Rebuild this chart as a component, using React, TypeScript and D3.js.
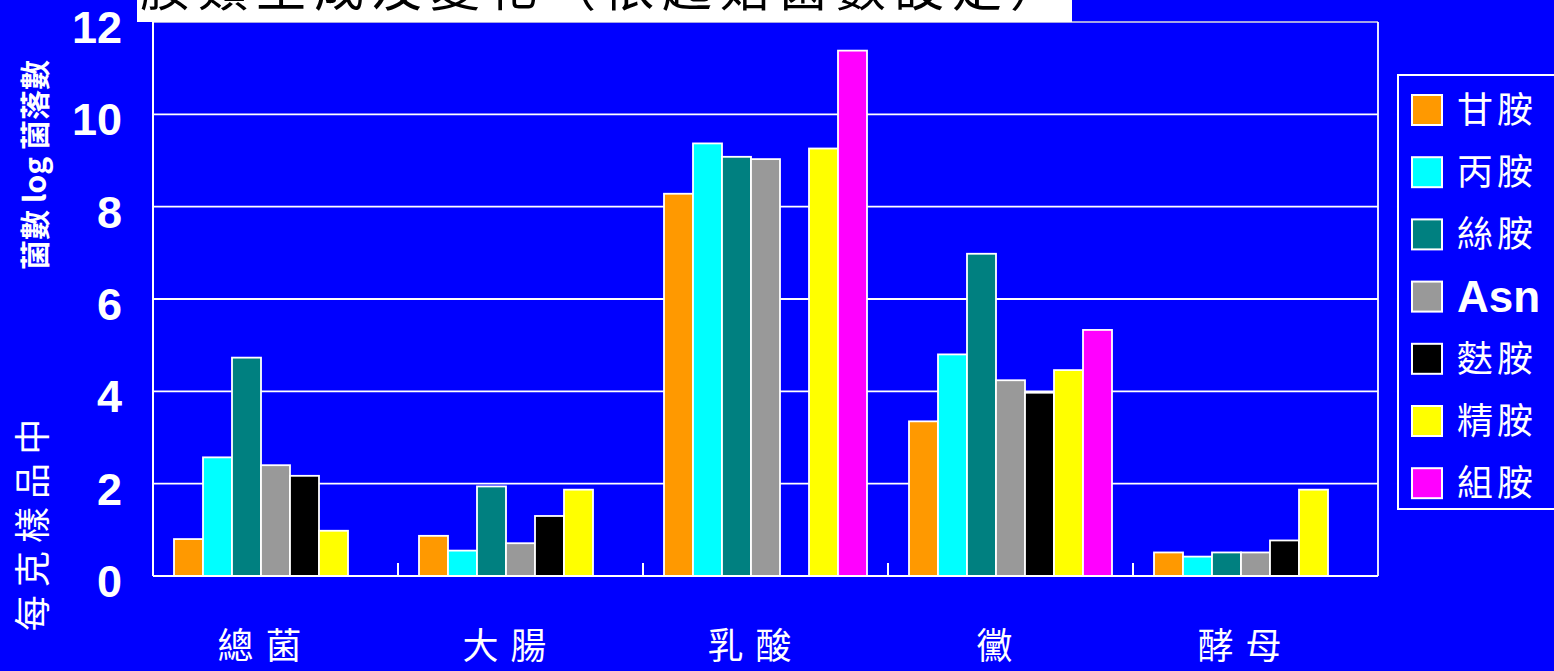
import React from "react";
import * as d3 from "d3";

// Groups along the x axis
const categories = ["總菌", "大腸", "乳酸", "黴", "酵母"];
// Series shown in the legend
const seriesNames = ["甘胺", "丙胺", "絲胺", "Asn", "麩胺", "精胺", "組胺"];
const seriesColors = ["#FF9900", "#00FFFF", "#008080", "#999999", "#000000", "#FFFF00", "#FF00FF"];

// log counts, one array per series (null = not measured)
const ganAn = [0.8, 0.87, 8.28, 3.35, 0.51];
const bingAn = [2.57, 0.55, 9.37, 4.8, 0.42];
const siAn = [4.73, 1.94, 9.08, 6.98, 0.51];
const asn = [2.4, 0.71, 9.03, 4.24, 0.51];
const fuAn = [2.17, 1.3, null, 3.97, 0.77];
const jingAn = [0.98, 1.87, 9.26, 4.46, 1.87];
const zuAn = [null, null, 11.38, 5.33, null];
const seriesValues: (number | null)[][] = [ganAn, bingAn, siAn, asn, fuAn, jingAn, zuAn];

const yTicks = [0, 2, 4, 6, 8, 10, 12];

const titleText = "胺類生成及變化（依起始菌數設定）";
const yTitle = "菌數 log 菌落數";
const ySubTitle = "每 克 樣 品 中";

const W = 1554;
const H = 671;
const plot = { left: 153, right: 1378, top: 22, bottom: 576 };

export default function App() {
  const x = d3.scaleBand<string>().domain(categories).range([plot.left, plot.right]);
  const inner = d3
    .scaleBand<string>()
    .domain(seriesNames)
    .range([21, x.bandwidth() - 21]);
  const y = d3.scaleLinear().domain([0, 12]).range([plot.bottom, plot.top]);

  const bars: JSX.Element[] = [];
  seriesValues.forEach((vals, si) => {
    vals.forEach((v, ci) => {
      if (v == null) return;
      const bx = (x(categories[ci]) ?? 0) + (inner(seriesNames[si]) ?? 0);
      bars.push(
        <rect
          key={`${si}-${ci}`}
          x={bx}
          y={y(v)}
          width={inner.bandwidth()}
          height={y(0) - y(v)}
          fill={seriesColors[si]}
          stroke="#FFFFFF"
          strokeWidth={1.8}
        />
      );
    });
  });

  const legendX = 1412;
  const legendY0 = 110;
  const legendStep = 62.2;

  return (
    <div style={{ position: "absolute", left: 0, top: 0, width: W, height: H, overflow: "hidden" }}>
      <svg width={W} height={H} style={{ display: "block" }}>
        <rect x={0} y={0} width={W} height={H} fill="#0000FF" />

        {/* grid lines */}
        {yTicks.filter((t) => t > 0 && t < 12).map((t) => (
          <line key={t} x1={plot.left} x2={plot.right} y1={y(t)} y2={y(t)} stroke="#FFFFFF" strokeWidth={1.8} />
        ))}

        {/* plot frame */}
        <line x1={plot.left} x2={plot.right} y1={plot.top} y2={plot.top} stroke="#DDDDDD" strokeWidth={1.5} />
        <line x1={plot.right} x2={plot.right} y1={plot.top} y2={plot.bottom} stroke="#FFFFFF" strokeWidth={1.8} />
        <line x1={plot.left} x2={plot.left} y1={plot.top} y2={plot.bottom} stroke="#FFFFFF" strokeWidth={2} />

        {bars}

        {/* x axis */}
        <line x1={plot.left} x2={plot.right} y1={plot.bottom} y2={plot.bottom} stroke="#FFFFFF" strokeWidth={2} />
        {categories.slice(1).map((c) => (
          <line key={c} x1={x(c)} x2={x(c)} y1={plot.bottom} y2={plot.bottom - 13} stroke="#FFFFFF" strokeWidth={2} />
        ))}

        {/* y tick labels */}
        {yTicks.map((t) => (
          <text
            key={t}
            x={122}
            y={y(t) + 9}
            textAnchor="end"
            dominantBaseline="middle"
            fill="#FFFFFF"
            fontFamily="Liberation Sans, Arial, sans-serif"
            fontWeight="bold"
            fontSize={45}
          >
            {t}
          </text>
        ))}

        {/* category labels */}
        {categories.map((c) => (
          <text
            key={c}
            x={(x(c) ?? 0) + x.bandwidth() / 2 - 10}
            y={659}
            textAnchor="middle"
            fill="#FFFFFF"
            fontFamily="Noto Sans CJK TC, sans-serif"
            fontSize={36}
            letterSpacing={12}
          >
            {c}
          </text>
        ))}

        {/* y axis titles */}
        <text
          transform="translate(46,165) rotate(-90)"
          textAnchor="middle"
          fill="#FFFFFF"
          fontFamily="Noto Sans CJK TC, sans-serif"
          fontWeight="bold"
          fontSize={30}
        >
          {yTitle}
        </text>
        <text
          transform="translate(46,525) rotate(-90)"
          textAnchor="middle"
          fill="#FFFFFF"
          fontFamily="Noto Sans CJK TC, sans-serif"
          fontSize={36}
        >
          {ySubTitle}
        </text>

        {/* title box, clipped at the page top */}
        <rect x={137} y={0} width={935} height={22} fill="#FFFFFF" />
        <text
          x={604}
          y={6}
          textAnchor="middle"
          fill="#000000"
          fontFamily="Noto Sans CJK TC, sans-serif"
          fontSize={50}
          letterSpacing={8}
        >
          {titleText}
        </text>

        {/* legend */}
        <rect x={1398} y={75} width={170} height={434} fill="#0000FF" stroke="#FFFFFF" strokeWidth={2} />
        {seriesNames.map((s, i) => {
          const cy = legendY0 + i * legendStep;
          const isLatin = /^[A-Za-z]+$/.test(s);
          return (
            <g key={s}>
              <rect x={legendX} y={cy - 15} width={30} height={30} fill={seriesColors[i]} stroke="#FFFFFF" strokeWidth={2} />
              <text
                x={1457}
                y={cy + (isLatin ? 15 : 13)}
                fill="#FFFFFF"
                fontFamily={isLatin ? "Liberation Sans, Arial, sans-serif" : "Noto Sans CJK TC, sans-serif"}
                fontWeight={isLatin ? "bold" : "normal"}
                fontSize={isLatin ? 44 : 36}
                letterSpacing={isLatin ? 0 : 4}
              >
                {s}
              </text>
            </g>
          );
        })}
      </svg>
    </div>
  );
}
